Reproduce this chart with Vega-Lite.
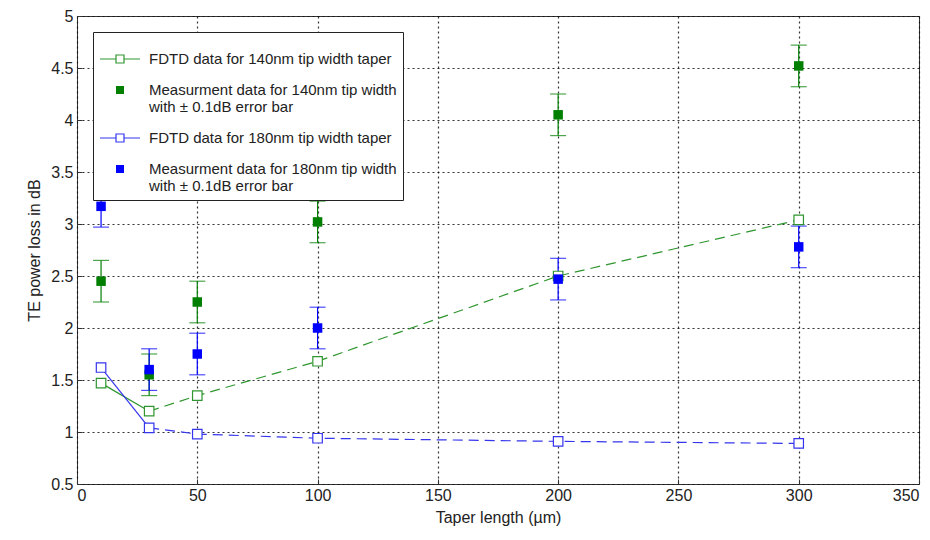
{
  "$schema": "https://vega.github.io/schema/vega-lite/v6.json",
  "autosize": "none",
  "width": 842,
  "height": 468,
  "padding": {"left": 77, "top": 16, "right": 11, "bottom": 56},
  "background": "white",
  "config": {
    "font": "Liberation Sans",
    "view": {"stroke": "#333", "strokeWidth": 1},
    "axis": {
      "labelFont": "Liberation Sans", "labelFontSize": 16, "labelColor": "#222",
      "titleFont": "Liberation Sans", "titleFontSize": 16, "titleFontWeight": "normal", "titleColor": "#222",
      "domain": false, "tickColor": "#333", "tickSize": -5,
      "grid": true, "gridColor": "#111", "gridDash": [2, 3], "gridWidth": 1.2, "gridOpacity": 0.85
    },
    "legend": {
      "labelFont": "Liberation Sans", "labelFontSize": 15, "labelColor": "#222", "labelLimit": 500
    }
  },
  "datasets": {
    "pts": [
      {"x": 10, "y": 1.47, "series": "FDTD data for 140nm tip width taper"},
      {"x": 30, "y": 1.2, "series": "FDTD data for 140nm tip width taper"},
      {"x": 50, "y": 1.35, "series": "FDTD data for 140nm tip width taper"},
      {"x": 100, "y": 1.68, "series": "FDTD data for 140nm tip width taper"},
      {"x": 200, "y": 2.5, "series": "FDTD data for 140nm tip width taper"},
      {"x": 300, "y": 3.04, "series": "FDTD data for 140nm tip width taper"},
      {"x": 10, "y": 2.45, "err": 0.2, "series": "Measurment data for 140nm tip width|with ± 0.1dB error bar"},
      {"x": 30, "y": 1.55, "err": 0.2, "series": "Measurment data for 140nm tip width|with ± 0.1dB error bar"},
      {"x": 50, "y": 2.25, "err": 0.2, "series": "Measurment data for 140nm tip width|with ± 0.1dB error bar"},
      {"x": 100, "y": 3.02, "err": 0.2, "series": "Measurment data for 140nm tip width|with ± 0.1dB error bar"},
      {"x": 200, "y": 4.05, "err": 0.2, "series": "Measurment data for 140nm tip width|with ± 0.1dB error bar"},
      {"x": 300, "y": 4.52, "err": 0.2, "series": "Measurment data for 140nm tip width|with ± 0.1dB error bar"},
      {"x": 10, "y": 1.62, "series": "FDTD data for 180nm tip width taper"},
      {"x": 30, "y": 1.04, "series": "FDTD data for 180nm tip width taper"},
      {"x": 50, "y": 0.98, "series": "FDTD data for 180nm tip width taper"},
      {"x": 100, "y": 0.94, "series": "FDTD data for 180nm tip width taper"},
      {"x": 200, "y": 0.91, "series": "FDTD data for 180nm tip width taper"},
      {"x": 300, "y": 0.89, "series": "FDTD data for 180nm tip width taper"},
      {"x": 10, "y": 3.17, "err": 0.2, "series": "Measurment data for 180nm tip width|with ± 0.1dB error bar"},
      {"x": 30, "y": 1.6, "err": 0.2, "series": "Measurment data for 180nm tip width|with ± 0.1dB error bar"},
      {"x": 50, "y": 1.75, "err": 0.2, "series": "Measurment data for 180nm tip width|with ± 0.1dB error bar"},
      {"x": 100, "y": 2.0, "err": 0.2, "series": "Measurment data for 180nm tip width|with ± 0.1dB error bar"},
      {"x": 200, "y": 2.47, "err": 0.2, "series": "Measurment data for 180nm tip width|with ± 0.1dB error bar"},
      {"x": 300, "y": 2.78, "err": 0.2, "series": "Measurment data for 180nm tip width|with ± 0.1dB error bar"}
    ]
  },
  "data": {"name": "pts"},
  "encoding": {
    "x": {"field": "x", "type": "quantitative", "title": "Taper length (µm)",
      "scale": {"domain": [0, 350], "nice": false},
      "axis": {"values": [0, 50, 100, 150, 200, 250, 300, 350], "labelPadding": 8, "titlePadding": 6}},
    "y": {"field": "y", "type": "quantitative", "title": "TE power loss in dB",
      "scale": {"domain": [0.5, 5], "nice": false, "zero": false},
      "axis": {"values": [0.5, 1, 1.5, 2, 2.5, 3, 3.5, 4, 4.5, 5], "format": "~g", "labelPadding": 9, "titlePadding": 8}}
  },
  "layer": [
    {
      "mark": {"type": "point", "strokeWidth": 1, "opacity": 1, "size": 1},
      "encoding": {
        "stroke": {"field": "series", "type": "nominal",
          "scale": {"domain": ["FDTD data for 140nm tip width taper", "Measurment data for 140nm tip width|with ± 0.1dB error bar", "FDTD data for 180nm tip width taper", "Measurment data for 180nm tip width|with ± 0.1dB error bar"],
            "range": ["#2f962f", "transparent", "#3535ee", "transparent"]},
          "legend": {
            "title": null, "orient": "top-left", "offset": 16,
            "strokeColor": "#222", "fillColor": "white", "padding": 6, "rowPadding": 2,
            "labelExpr": "split(datum.label, '|')",
            "symbolSize": 1600, "symbolStrokeWidth": 1.2, "labelOffset": 8,
            "symbolType": "M-1,0H-0.2M0.2,0H1M-0.2,-0.2H0.2V0.2H-0.2Z"
          }},
        "fill": {"field": "series", "type": "nominal",
          "scale": {"domain": ["FDTD data for 140nm tip width taper", "Measurment data for 140nm tip width|with ± 0.1dB error bar", "FDTD data for 180nm tip width taper", "Measurment data for 180nm tip width|with ± 0.1dB error bar"],
            "range": ["transparent", "#007f00", "transparent", "#0000ff"]},
          "legend": {
            "title": null, "orient": "top-left", "offset": 16,
            "strokeColor": "#222", "fillColor": "white", "padding": 6, "rowPadding": 2,
            "labelExpr": "split(datum.label, '|')",
            "symbolSize": 1600, "symbolStrokeWidth": 1.2, "labelOffset": 8,
            "symbolType": "M-1,0H-0.2M0.2,0H1M-0.2,-0.2H0.2V0.2H-0.2Z"
          }}
      }
    },
    {
      "transform": [{"filter": "indexof(datum.series, 'FDTD') >= 0 && datum.x <= 30"}],
      "mark": {"type": "line", "strokeWidth": 1.2},
      "encoding": {
        "color": {"field": "series", "type": "nominal", "legend": null,
          "scale": {"domain": ["FDTD data for 140nm tip width taper", "Measurment data for 140nm tip width|with ± 0.1dB error bar", "FDTD data for 180nm tip width taper", "Measurment data for 180nm tip width|with ± 0.1dB error bar"],
            "range": ["#2f962f", "#007f00", "#3535ee", "#0000ff"]}}
      }
    },
    {
      "transform": [{"filter": "indexof(datum.series, 'FDTD') >= 0 && datum.x >= 30"}],
      "mark": {"type": "line", "strokeWidth": 1.2, "strokeDash": [10, 6]},
      "encoding": {
        "color": {"field": "series", "type": "nominal", "legend": null}
      }
    },
    {
      "transform": [{"filter": "indexof(datum.series, 'Meas') >= 0"}],
      "mark": {"type": "errorbar", "ticks": {"size": 16}, "thickness": 1.2},
      "encoding": {
        "y": {"field": "y", "type": "quantitative"},
        "yError": {"field": "err"},
        "color": {"field": "series", "type": "nominal", "legend": null}
      }
    },
    {
      "transform": [{"filter": "indexof(datum.series, 'FDTD') >= 0"}],
      "mark": {"type": "point", "shape": "square", "size": 90, "strokeWidth": 1.2, "opacity": 1, "filled": false, "fill": "white"},
      "encoding": {
        "color": {"field": "series", "type": "nominal", "legend": null}
      }
    },
    {
      "transform": [{"filter": "indexof(datum.series, 'Meas') >= 0"}],
      "mark": {"type": "point", "shape": "square", "size": 90, "opacity": 1, "filled": true},
      "encoding": {
        "color": {"field": "series", "type": "nominal", "legend": null}
      }
    }
  ]
}
